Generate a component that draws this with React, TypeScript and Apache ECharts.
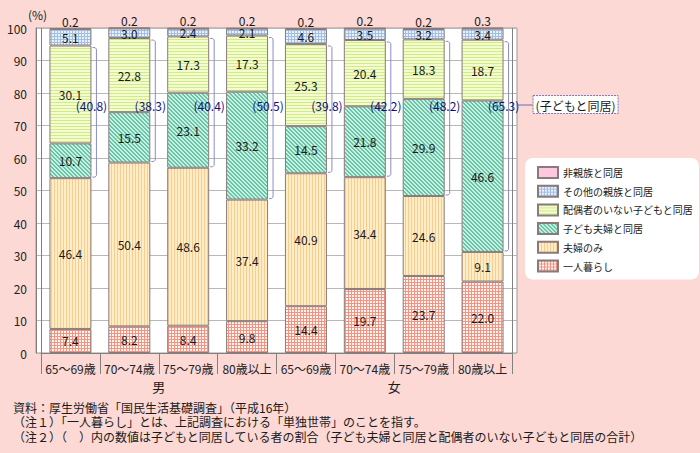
import React, { useEffect, useRef } from 'react';
import * as echarts from 'echarts';

const categories = ['65～69歳', '70～74歳', '75～79歳', '80歳以上', '65～69歳', '70～74歳', '75～79歳', '80歳以上'];
const groups = ['男', '女'];
const seriesNames = ['一人暮らし', '夫婦のみ', '子ども夫婦と同居', '配偶者のいない子どもと同居', 'その他の親族と同居', '非親族と同居'];
const livingAlone = [7.4, 8.2, 8.4, 9.8, 14.4, 19.7, 23.7, 22.0];
const coupleOnly = [46.4, 50.4, 48.6, 37.4, 40.9, 34.4, 24.6, 9.1];
const withMarriedChild = [10.7, 15.5, 23.1, 33.2, 14.5, 21.8, 29.9, 46.6];
const withUnmarriedChild = [30.1, 22.8, 17.3, 17.3, 25.3, 20.4, 18.3, 18.7];
const withOtherRelatives = [5.1, 3.0, 2.4, 2.1, 4.6, 3.5, 3.2, 3.4];
const withNonRelatives = [0.2, 0.2, 0.2, 0.2, 0.2, 0.2, 0.2, 0.3];
const withChildTotal = [40.8, 38.3, 40.4, 50.5, 39.8, 42.2, 48.2, 65.3];
const withChildCaption = '(子どもと同居)';
const notes = [
  '資料：厚生労働省「国民生活基礎調査」（平成16年）',
  '（注１）「一人暮らし」とは、上記調査における「単独世帯」のことを指す。',
  '（注２）（　）内の数値は子どもと同居している者の割合（子ども夫婦と同居と配偶者のいない子どもと同居の合計）',
];
const Y_MIN = 0;
const Y_MAX = 100;
const Y_STEP = 10;

const FONT = '"Noto Sans CJK JP", "Noto Sans", sans-serif';
const BAR_RATIO = 0.713;

function tile(w: number, h: number, draw: (ctx: CanvasRenderingContext2D) => void) {
  const c = document.createElement('canvas');
  c.width = w;
  c.height = h;
  const ctx = c.getContext('2d')!;
  draw(ctx);
  return { image: c.toDataURL(), repeat: 'repeat', imageWidth: w, imageHeight: h } as any;
}

function makePatterns() {
  const alone = tile(3, 3, (ctx) => {
    ctx.fillStyle = '#F39382';
    ctx.fillRect(0, 0, 3, 3);
    ctx.fillStyle = '#FFF4F0';
    ctx.fillRect(1, 1, 2, 2);
  });
  const couple = tile(3, 3, (ctx) => {
    ctx.fillStyle = '#FFEDC6';
    ctx.fillRect(0, 0, 3, 3);
    ctx.fillStyle = '#F9CC92';
    ctx.fillRect(0, 0, 1, 3);
  });
  const married = tile(4, 4, (ctx) => {
    ctx.fillStyle = '#CBEFE2';
    ctx.fillRect(0, 0, 4, 4);
    ctx.fillStyle = '#66C6A7';
    for (let y = 0; y < 4; y++) {
      for (let x = 0; x < 4; x++) {
        if ((((x - y) % 4) + 4) % 4 < 2) ctx.fillRect(x, y, 1, 1);
      }
    }
  });
  const unmarried = tile(3, 3, (ctx) => {
    ctx.fillStyle = '#F4FBCE';
    ctx.fillRect(0, 0, 3, 3);
    ctx.fillStyle = '#D0EC8A';
    ctx.fillRect(0, 0, 3, 1);
  });
  const other = tile(3, 3, (ctx) => {
    ctx.fillStyle = '#A3BEE3';
    ctx.fillRect(0, 0, 3, 3);
    ctx.fillStyle = '#E8F0F9';
    ctx.fillRect(1, 1, 2, 2);
  });
  return [alone, couple, married, unmarried, other, '#FFC8E0'];
}

export default function App() {
  const ref = useRef<HTMLDivElement>(null);
  useEffect(() => {
    if (!ref.current) return;
    const chart = echarts.init(ref.current, null, { renderer: 'svg' });
    const patterns = makePatterns();
    const values = [livingAlone, coupleOnly, withMarriedChild, withUnmarriedChild, withOtherRelatives, withNonRelatives];

    const barSeries = seriesNames.map((name, k) => ({
      name,
      type: 'bar',
      stack: 'total',
      xAxisIndex: 0,
      yAxisIndex: 0,
      barWidth: `${BAR_RATIO * 100}%`,
      data: values[k],
      itemStyle: { color: patterns[k], borderColor: '#8A7A7A', borderWidth: 1 },
      label: {
        show: true,
        position: k === 5 ? 'top' : 'inside',
        distance: 1,
        color: '#1A1A1A',
        fontSize: 12,
        fontFamily: FONT,
        formatter: (p: any) => Number(p.value).toFixed(1),
      },
      z: 2,
    }));

    const bracketData = withChildTotal.map((_, i) => {
      const lo = livingAlone[i] + coupleOnly[i];
      const hi = lo + withMarriedChild[i] + withUnmarriedChild[i];
      return [i, lo, hi];
    });

    const bracketSeries = {
      type: 'custom',
      xAxisIndex: 0,
      yAxisIndex: 0,
      z: 10,
      data: bracketData,
      renderItem: (params: any, api: any) => {
        const i = api.value(0);
        const [cx, yLo0] = api.coord([i, api.value(1)]);
        const yHi0 = api.coord([i, api.value(2)])[1];
        const yLo = yLo0 - 1;
        const yHi = yHi0 + 2;
        const band = api.size([1, 0])[0];
        const right = cx + (band * BAR_RATIO) / 2;
        const bx = right + 5;
        const cs = params.coordSys;
        const ly = cs.y + cs.height * 0.237;
        const stroke = '#8C8CC8';
        const children: any[] = [
          {
            type: 'polyline',
            shape: {
              points: [
                [right + 1, yHi],
                [bx - 1.5, yHi],
                [bx, yHi + 1.5],
                [bx, yLo - 1.5],
                [bx - 1.5, yLo],
                [right + 1, yLo],
              ],
            },
            style: { stroke, fill: null, lineWidth: 1 },
          },
          {
            type: 'text',
            x: right,
            y: ly,
            style: {
              text: `(${withChildTotal[i].toFixed(1)})`,
              fill: '#101080',
              fontSize: 12,
              fontFamily: FONT,
              align: 'center',
              verticalAlign: 'middle',
            },
          },
        ];
        if (i === withChildTotal.length - 1) {
          const bx0 = right + 29;
          children.push(
            {
              type: 'line',
              shape: { x1: right + 13, y1: ly, x2: bx0, y2: ly },
              style: { stroke: '#6A6AA8', lineWidth: 1 },
            },
            {
              type: 'rect',
              shape: { x: bx0 + 0.5, y: ly - 9.5, width: 85, height: 18 },
              style: { fill: '#FFFFFF', stroke: '#7A7AB8', lineWidth: 1, lineDash: [2, 1] },
            },
            {
              type: 'text',
              x: bx0 + 43,
              y: ly,
              style: {
                text: withChildCaption,
                fill: '#1A1A1A',
                fontSize: 12,
                fontFamily: FONT,
                align: 'center',
                verticalAlign: 'middle',
              },
            }
          );
        }
        return { type: 'group', children };
      },
    };

    const option: any = {
      animation: false,
      backgroundColor: '#FCD9D5',
      textStyle: { fontFamily: FONT },
      grid: [
        { left: 41, width: 471, top: 28, bottom: 100, containLabel: false },
        {
          left: 36,
          width: 481,
          top: 28,
          bottom: 100,
          show: true,
          backgroundColor: '#FFFFFF',
          borderColor: '#9A9A9A',
          borderWidth: 1,
          z: 0,
        },
      ],
      xAxis: [
        {
          type: 'category',
          gridIndex: 0,
          data: categories,
          boundaryGap: true,
          axisLine: { show: true, lineStyle: { color: '#808080' } },
          axisTick: { show: true, interval: 0, length: 21, lineStyle: { color: '#808080' } },
          axisLabel: { interval: 0, margin: 9, fontSize: 12, color: '#222222', fontFamily: FONT },
          splitLine: {
            show: true,
            interval: (idx: number) => idx === 4,
            lineStyle: { color: '#808080', width: 1 },
          },
          z: 3,
        },
        { type: 'value', gridIndex: 1, min: 0, max: 1, show: false },
        {
          type: 'category',
          gridIndex: 0,
          position: 'bottom',
          offset: 0,
          data: groups,
          boundaryGap: true,
          axisLine: { show: false },
          axisTick: { show: false },
          axisLabel: { interval: 0, margin: 27, fontSize: 13, color: '#1A1A1A', fontFamily: FONT },
          splitLine: { show: false },
        },
      ],
      yAxis: [
        {
          type: 'value',
          gridIndex: 0,
          min: Y_MIN,
          max: Y_MAX,
          interval: Y_STEP,
          offset: 5,
          axisLine: { show: true, lineStyle: { color: '#808080' } },
          axisTick: { show: false },
          axisLabel: { margin: 9, fontSize: 12, color: '#222222', fontFamily: FONT },
          splitLine: { show: false },
          z: 3,
        },
        {
          type: 'value',
          gridIndex: 1,
          min: Y_MIN,
          max: Y_MAX,
          interval: Y_STEP,
          axisLine: { show: false },
          axisTick: { show: false },
          axisLabel: { show: false },
          splitLine: { show: true, lineStyle: { color: '#B8B8B8', width: 1 } },
        },
      ],
      legend: {
        orient: 'vertical',
        left: 525,
        top: 158,
        data: [...seriesNames].reverse(),
        icon: 'rect',
        itemWidth: 20,
        itemHeight: 11,
        itemGap: 5.7,
        padding: [8, 6, 7, 12],
        backgroundColor: '#FFFFFF',
        borderRadius: 8,
        textStyle: { fontSize: 10, color: '#1A1A1A', fontFamily: FONT },
        selectedMode: false,
      },
      graphic: [
        {
          type: 'text',
          left: 28,
          top: 8,
          style: { text: '(%)', fontSize: 12, fill: '#222222', fontFamily: FONT },
        },
        {
          type: 'text',
          left: 13,
          top: 400,
          style: {
            text: notes.join('\n'),
            fontSize: 12,
            lineHeight: 14.5,
            fill: '#1A1A1A',
            fontFamily: FONT,
          },
        },
      ],
      series: [...barSeries, bracketSeries],
    };
    chart.setOption(option);
    return () => chart.dispose();
  }, []);
  return <div ref={ref} style={{ position: 'fixed', left: 0, top: 0, width: 700, height: 453 }} />;
}
